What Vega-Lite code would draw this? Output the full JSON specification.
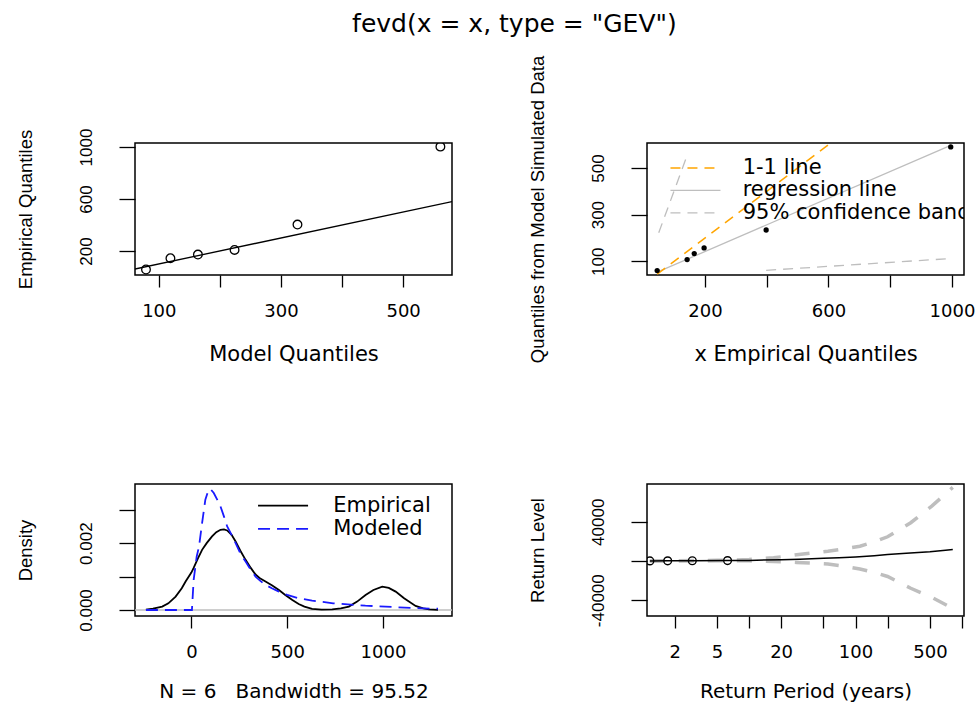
{
  "$schema": "https://vega.github.io/schema/vega-lite/v6.json",
  "background": "white",
  "padding": {"left": 15, "top": 11, "right": 0, "bottom": 6},
  "title": {"text": "fevd(x = x, type = \"GEV\")", "font": "DejaVu Sans", "fontSize": 25, "fontWeight": "normal", "color": "black", "anchor": "middle", "offset": 18, "dx": 19},
  "columns": 2,
  "bounds": "flush",
  "spacing": {"row": 209, "column": 195},
  "config": {
    "view": {"stroke": "black", "strokeWidth": 1.5},
    "axis": {"grid": false, "domain": false, "ticks": true, "tickColor": "black", "tickWidth": 1.3, "labelColor": "black", "titleColor": "black", "titleFontWeight": "normal", "labelOverlap": false, "labelFlush": false},
    "axisX": {"tickSize": 12, "labelFont": "DejaVu Sans", "labelFontSize": 18, "labelPadding": 15, "titleFont": "DejaVu Sans", "titleFontSize": 21, "titlePadding": 23},
    "axisY": {"tickSize": 16, "labelFont": "Liberation Sans", "labelFontSize": 17, "labelAngle": -90, "labelAlign": "center", "labelBaseline": "alphabetic", "labelPadding": 28, "titleFont": "Liberation Sans", "titleFontSize": 18.5, "titlePadding": 42}
  },
  "concat": [
    {
      "width": 317, "height": 132,
      "layer": [
        {"data": {"values": [{"x": 61, "y": 61}, {"x": 580, "y": 580}]},
         "mark": {"type": "line", "color": "black", "strokeWidth": 1.3, "clip": true},
         "encoding": {
           "x": {"field": "x", "type": "quantitative", "title": "Model Quantiles", "scale": {"domain": [61, 580], "nice": false, "zero": false},
                 "axis": {"values": [100, 200, 300, 400, 500], "format": "d", "labelExpr": "datum.value == 200 || datum.value == 400 ? '' : datum.label"}},
           "y": {"field": "y", "type": "quantitative", "title": "Empirical Quantiles", "scale": {"domain": [15, 1031], "nice": false, "zero": false},
                 "axis": {"values": [200, 400, 600, 800, 1000], "format": "d", "labelExpr": "datum.value == 400 || datum.value == 800 ? '' : datum.label"}}
         }},
        {"data": {"values": [{"x": 79, "y": 57}, {"x": 119, "y": 144}, {"x": 164, "y": 172}, {"x": 224, "y": 208}, {"x": 327, "y": 403}, {"x": 561, "y": 1003}]},
         "mark": {"type": "point", "shape": "circle", "filled": false, "color": "black", "size": 75, "strokeWidth": 1.3, "opacity": 1, "clip": true},
         "encoding": {"x": {"field": "x", "type": "quantitative", "title": "Model Quantiles"}, "y": {"field": "y", "type": "quantitative", "title": "Empirical Quantiles"}}}
      ]
    },
    {
      "width": 317, "height": 132,
      "layer": [
        {"data": {"values": [{"x": 50, "y": 222}, {"x": 139, "y": 543}]},
         "mark": {"type": "line", "color": "#BEBEBE", "strokeWidth": 1.3, "strokeDash": [10, 7], "clip": true},
         "encoding": {
           "x": {"field": "x", "type": "quantitative", "title": "x Empirical Quantiles", "scale": {"domain": [12, 1039], "nice": false, "zero": false},
                 "axis": {"values": [200, 400, 600, 800, 1000], "format": "d", "labelExpr": "datum.value == 400 || datum.value == 800 ? '' : datum.label"}},
           "y": {"field": "y", "type": "quantitative", "title": "Quantiles from Model Simulated Data", "scale": {"domain": [41, 607], "nice": false, "zero": false},
                 "axis": {"values": [100, 200, 300, 400, 500], "format": "d", "labelExpr": "datum.value == 200 || datum.value == 400 ? '' : datum.label"}}
         }},
        {"data": {"values": [{"x": 398, "y": 61}, {"x": 1000, "y": 112}]},
         "mark": {"type": "line", "color": "#BEBEBE", "strokeWidth": 1.3, "strokeDash": [10, 7], "clip": true},
         "encoding": {"x": {"field": "x", "type": "quantitative", "title": "x Empirical Quantiles"}, "y": {"field": "y", "type": "quantitative", "title": "Quantiles from Model Simulated Data"}}},
        {"data": {"values": [{"x": 45, "y": 53}, {"x": 996, "y": 597}]},
         "mark": {"type": "line", "color": "#BEBEBE", "strokeWidth": 1.3, "clip": true},
         "encoding": {"x": {"field": "x", "type": "quantitative", "title": "x Empirical Quantiles"}, "y": {"field": "y", "type": "quantitative", "title": "Quantiles from Model Simulated Data"}}},
        {"data": {"values": [{"x": 45, "y": 45}, {"x": 700, "y": 700}]},
         "mark": {"type": "line", "color": "#FFA500", "strokeWidth": 1.5, "strokeDash": [10, 7], "clip": true},
         "encoding": {"x": {"field": "x", "type": "quantitative", "title": "x Empirical Quantiles"}, "y": {"field": "y", "type": "quantitative", "title": "Quantiles from Model Simulated Data"}}},
        {"data": {"values": [{"x": 45, "y": 60}, {"x": 142, "y": 107}, {"x": 165, "y": 133}, {"x": 197, "y": 157}, {"x": 398, "y": 234}, {"x": 996, "y": 590}]},
         "mark": {"type": "point", "shape": "circle", "filled": true, "color": "black", "size": 28, "opacity": 1, "clip": true},
         "encoding": {"x": {"field": "x", "type": "quantitative", "title": "x Empirical Quantiles"}, "y": {"field": "y", "type": "quantitative", "title": "Quantiles from Model Simulated Data"}}},
        {"data": {"values": [{"item": "1-1 line"}]},
         "mark": {"type": "rule", "color": "#FFA500", "strokeWidth": 1.5, "strokeDash": [10, 7]},
         "encoding": {"x": {"datum": 88, "title": "x Empirical Quantiles"}, "x2": {"datum": 250}, "y": {"datum": 500, "title": "Quantiles from Model Simulated Data"}}},
        {"data": {"values": [{"item": "regression line"}]},
         "mark": {"type": "rule", "color": "#BEBEBE", "strokeWidth": 1.3},
         "encoding": {"x": {"datum": 88, "title": "x Empirical Quantiles"}, "x2": {"datum": 250}, "y": {"datum": 404, "title": "Quantiles from Model Simulated Data"}}},
        {"data": {"values": [{"item": "95% confidence bands"}]},
         "mark": {"type": "rule", "color": "#BEBEBE", "strokeWidth": 1.3, "strokeDash": [10, 7]},
         "encoding": {"x": {"datum": 88, "title": "x Empirical Quantiles"}, "x2": {"datum": 250}, "y": {"datum": 307, "title": "Quantiles from Model Simulated Data"}}},
        {"data": {"values": [{"item": "1-1 line"}]},
         "mark": {"type": "text", "align": "left", "baseline": "middle", "font": "DejaVu Sans", "fontSize": 21, "color": "black", "clip": true},
         "encoding": {"x": {"datum": 322, "title": "x Empirical Quantiles"}, "y": {"datum": 500, "title": "Quantiles from Model Simulated Data"}, "text": {"field": "item"}}},
        {"data": {"values": [{"item": "regression line"}]},
         "mark": {"type": "text", "align": "left", "baseline": "middle", "font": "DejaVu Sans", "fontSize": 21, "color": "black", "clip": true},
         "encoding": {"x": {"datum": 322, "title": "x Empirical Quantiles"}, "y": {"datum": 404, "title": "Quantiles from Model Simulated Data"}, "text": {"field": "item"}}},
        {"data": {"values": [{"item": "95% confidence bands"}]},
         "mark": {"type": "text", "align": "left", "baseline": "middle", "font": "DejaVu Sans", "fontSize": 21, "color": "black", "clip": true},
         "encoding": {"x": {"datum": 322, "title": "x Empirical Quantiles"}, "y": {"datum": 307, "title": "Quantiles from Model Simulated Data"}, "text": {"field": "item"}}}
      ]
    },
    {
      "width": 317, "height": 132,
      "layer": [
        {"data": {"values": [{"y": 0}]},
         "mark": {"type": "rule", "color": "#BEBEBE", "strokeWidth": 1.5},
         "encoding": {
           "y": {"field": "y", "type": "quantitative", "title": "Density", "scale": {"domain": [-0.00018, 0.00377], "nice": false, "zero": false},
                 "axis": {"values": [0, 0.001, 0.002, 0.003], "format": ".3f", "labelExpr": "datum.value == 0 || abs(datum.value - 0.002) < 0.00001 ? datum.label : ''"}},
           "x": {"value": 0}, "x2": {"value": 317}
         }},
        {"data": {"values": [
          {"x": -237, "y": 0.00001}, {"x": -200, "y": 0.00004}, {"x": -152, "y": 0.0001}, {"x": -120, "y": 0.0002},
          {"x": -82, "y": 0.0004}, {"x": -50, "y": 0.00065}, {"x": -30, "y": 0.00085}, {"x": 0, "y": 0.00112},
          {"x": 12, "y": 0.00126}, {"x": 35, "y": 0.00155}, {"x": 56, "y": 0.0018}, {"x": 80, "y": 0.002},
          {"x": 108, "y": 0.0022}, {"x": 130, "y": 0.00233}, {"x": 152, "y": 0.0024}, {"x": 170, "y": 0.00241},
          {"x": 187, "y": 0.00238}, {"x": 210, "y": 0.00225}, {"x": 231, "y": 0.00205}, {"x": 255, "y": 0.00178},
          {"x": 283, "y": 0.0015}, {"x": 310, "y": 0.00126}, {"x": 335, "y": 0.00106}, {"x": 360, "y": 0.00094},
          {"x": 387, "y": 0.00085}, {"x": 420, "y": 0.00074}, {"x": 457, "y": 0.0006}, {"x": 490, "y": 0.00045},
          {"x": 527, "y": 0.0003}, {"x": 560, "y": 0.00018}, {"x": 590, "y": 0.0001}, {"x": 630, "y": 0.00003},
          {"x": 680, "y": 0.00001}, {"x": 735, "y": 0.00002}, {"x": 780, "y": 0.00005}, {"x": 822, "y": 0.0001},
          {"x": 865, "y": 0.00025}, {"x": 909, "y": 0.00045}, {"x": 950, "y": 0.0006}, {"x": 996, "y": 0.0007},
          {"x": 1030, "y": 0.00066}, {"x": 1066, "y": 0.00055}, {"x": 1110, "y": 0.00035}, {"x": 1170, "y": 0.00012},
          {"x": 1210, "y": 0.00005}, {"x": 1240, "y": 0.00002}, {"x": 1287, "y": 0.000005}
        ]},
         "mark": {"type": "line", "color": "black", "strokeWidth": 1.8, "clip": true},
         "encoding": {
           "x": {"field": "x", "type": "quantitative", "title": "N = 6\u00a0\u00a0 Bandwidth = 95.52", "scale": {"domain": [-294, 1360], "nice": false, "zero": false},
                 "axis": {"values": [0, 500, 1000], "format": "d", "titlePadding": 20, "titleFontSize": 20}},
           "y": {"field": "y", "type": "quantitative", "title": "Density"}
         }},
        {"data": {"values": [
          {"x": -237, "y": 0}, {"x": 3, "y": 0}, {"x": 12, "y": 0.0009}, {"x": 28, "y": 0.0016}, {"x": 40, "y": 0.0019},
          {"x": 56, "y": 0.0026}, {"x": 73, "y": 0.0033}, {"x": 90, "y": 0.0036}, {"x": 100, "y": 0.00362},
          {"x": 117, "y": 0.0035}, {"x": 135, "y": 0.0033}, {"x": 152, "y": 0.0031}, {"x": 170, "y": 0.0028},
          {"x": 187, "y": 0.0025}, {"x": 210, "y": 0.00225}, {"x": 231, "y": 0.002}, {"x": 255, "y": 0.0017},
          {"x": 283, "y": 0.00145}, {"x": 310, "y": 0.0012}, {"x": 335, "y": 0.001}, {"x": 360, "y": 0.00087},
          {"x": 387, "y": 0.00075}, {"x": 420, "y": 0.00065}, {"x": 457, "y": 0.00055}, {"x": 500, "y": 0.00045},
          {"x": 561, "y": 0.00035}, {"x": 630, "y": 0.00028}, {"x": 740, "y": 0.0002}, {"x": 908, "y": 0.00013},
          {"x": 1082, "y": 0.00008}, {"x": 1256, "y": 0.00004}, {"x": 1287, "y": 0.00004}
        ]},
         "mark": {"type": "line", "color": "#1a1aff", "strokeWidth": 1.8, "strokeDash": [12, 7], "clip": true},
         "encoding": {"x": {"field": "x", "type": "quantitative", "title": "N = 6\u00a0\u00a0 Bandwidth = 95.52"}, "y": {"field": "y", "type": "quantitative", "title": "Density"}}},
        {"data": {"values": [{"item": "Empirical"}]},
         "mark": {"type": "rule", "color": "black", "strokeWidth": 1.8},
         "encoding": {"x": {"datum": 348, "title": "N = 6\u00a0\u00a0 Bandwidth = 95.52"}, "x2": {"datum": 609}, "y": {"datum": 0.003123, "title": "Density"}}},
        {"data": {"values": [{"item": "Modeled"}]},
         "mark": {"type": "rule", "color": "#1a1aff", "strokeWidth": 1.8, "strokeDash": [12, 7]},
         "encoding": {"x": {"datum": 348, "title": "N = 6\u00a0\u00a0 Bandwidth = 95.52"}, "x2": {"datum": 609}, "y": {"datum": 0.002425, "title": "Density"}}},
        {"data": {"values": [{"item": "Empirical"}]},
         "mark": {"type": "text", "align": "left", "baseline": "middle", "font": "DejaVu Sans", "fontSize": 21, "color": "black", "clip": true},
         "encoding": {"x": {"datum": 740, "title": "N = 6\u00a0\u00a0 Bandwidth = 95.52"}, "y": {"datum": 0.003123, "title": "Density"}, "text": {"field": "item"}}},
        {"data": {"values": [{"item": "Modeled"}]},
         "mark": {"type": "text", "align": "left", "baseline": "middle", "font": "DejaVu Sans", "fontSize": 21, "color": "black", "clip": true},
         "encoding": {"x": {"datum": 740, "title": "N = 6\u00a0\u00a0 Bandwidth = 95.52"}, "y": {"datum": 0.002425, "title": "Density"}, "text": {"field": "item"}}}
      ]
    },
    {
      "width": 317, "height": 132,
      "layer": [
        {"data": {"values": [
          {"period": 1.17, "level": 90}, {"period": 1.5, "level": 200}, {"period": 2, "level": 260}, {"period": 3, "level": 400},
          {"period": 5, "level": 650}, {"period": 7, "level": 900}, {"period": 10, "level": 1500}, {"period": 13, "level": 2300},
          {"period": 17, "level": 3300}, {"period": 22, "level": 4800}, {"period": 28, "level": 6300}, {"period": 40, "level": 8200},
          {"period": 55, "level": 9900}, {"period": 80, "level": 12500}, {"period": 110, "level": 15000}, {"period": 150, "level": 19500},
          {"period": 200, "level": 24700}, {"period": 330, "level": 39000}, {"period": 520, "level": 56000}, {"period": 819, "level": 75000}
        ]},
         "mark": {"type": "line", "color": "#BEBEBE", "strokeWidth": 3.5, "strokeDash": [15, 14], "clip": true},
         "encoding": {
           "x": {"field": "period", "type": "quantitative", "title": "Return Period (years)", "scale": {"type": "log", "domain": [1.1, 1044], "nice": false},
                 "axis": {"titlePadding": 20, "titleFontSize": 20, "values": [2, 5, 10, 20, 50, 100, 200, 500, 1000], "labelExpr": "indexof([2, 5, 20, 100, 500], datum.value) >= 0 ? toString(datum.value) : ''"}},
           "y": {"field": "level", "type": "quantitative", "title": "Return Level", "scale": {"domain": [-56100, 78500], "nice": false, "zero": false},
                 "axis": {"values": [-40000, -20000, 0, 20000, 40000, 60000], "labelExpr": "datum.value == 40000 ? '40000' : (datum.value == -40000 ? '-40000' : '')"}}
         }},
        {"data": {"values": [
          {"period": 1.17, "level": 20}, {"period": 1.5, "level": 90}, {"period": 2, "level": 120}, {"period": 3, "level": 170},
          {"period": 5, "level": 230}, {"period": 7, "level": 250}, {"period": 10, "level": 150}, {"period": 13, "level": -200},
          {"period": 17, "level": -600}, {"period": 22, "level": -1000}, {"period": 28, "level": -1500}, {"period": 40, "level": -2300},
          {"period": 55, "level": -3100}, {"period": 80, "level": -5500}, {"period": 110, "level": -8200}, {"period": 150, "level": -11800},
          {"period": 200, "level": -15800}, {"period": 330, "level": -27800}, {"period": 520, "level": -37000}, {"period": 819, "level": -48300}
        ]},
         "mark": {"type": "line", "color": "#BEBEBE", "strokeWidth": 3.5, "strokeDash": [15, 14], "clip": true},
         "encoding": {"x": {"field": "period", "type": "quantitative", "title": "Return Period (years)"}, "y": {"field": "level", "type": "quantitative", "title": "Return Level"}}},
        {"data": {"values": [
          {"period": 1.17, "level": 50}, {"period": 1.72, "level": 140}, {"period": 2.93, "level": 190}, {"period": 6.28, "level": 400},
          {"period": 10, "level": 600}, {"period": 20, "level": 1300}, {"period": 30, "level": 1800}, {"period": 50, "level": 2700},
          {"period": 70, "level": 3300}, {"period": 100, "level": 4100}, {"period": 150, "level": 5400}, {"period": 200, "level": 6500},
          {"period": 300, "level": 7800}, {"period": 500, "level": 9300}, {"period": 700, "level": 10900}, {"period": 819, "level": 11600}
        ]},
         "mark": {"type": "line", "color": "black", "strokeWidth": 1.5, "clip": true},
         "encoding": {"x": {"field": "period", "type": "quantitative", "title": "Return Period (years)"}, "y": {"field": "level", "type": "quantitative", "title": "Return Level"}}},
        {"data": {"values": [
          {"period": 1.17, "level": 50}, {"period": 1.72, "level": 140}, {"period": 2.93, "level": 190}, {"period": 6.28, "level": 400}
        ]},
         "mark": {"type": "point", "shape": "circle", "filled": false, "color": "black", "size": 60, "strokeWidth": 1.4, "opacity": 1, "clip": true},
         "encoding": {"x": {"field": "period", "type": "quantitative", "title": "Return Period (years)"}, "y": {"field": "level", "type": "quantitative", "title": "Return Level"}}}
      ]
    }
  ]
}
